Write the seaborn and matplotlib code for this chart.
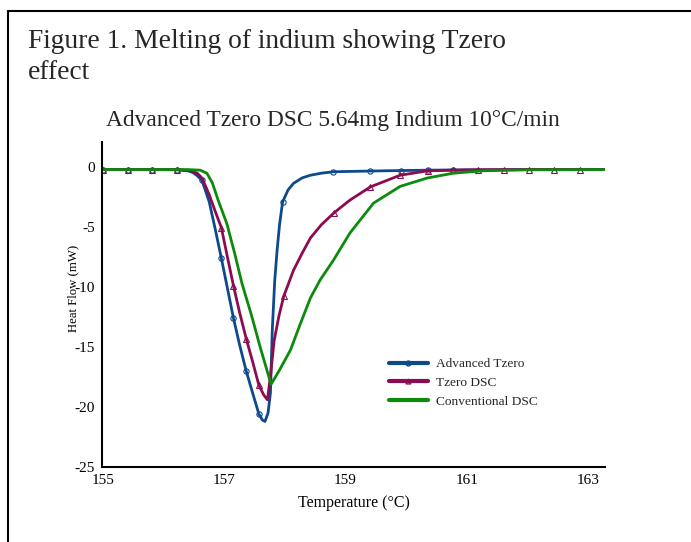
"""Melting of indium: Tzero DSC comparison."""

import matplotlib.pyplot as plt
from matplotlib.lines import Line2D
import pandas as pd
import seaborn as sns

sns.set_theme(style="white")
plt.rcParams["font.family"] = ["Liberation Serif", "DejaVu Serif"]

# Advanced Tzero
adv_temp = [155.0, 155.41, 155.81, 156.22, 156.4, 156.48, 156.55, 156.63, 156.75, 156.85,
            156.95, 157.05, 157.15, 157.25, 157.36, 157.47, 157.57, 157.63, 157.67, 157.72,
            157.76, 157.79, 157.83, 157.87, 157.91, 157.96, 158.05, 158.14, 158.28, 158.42,
            158.6, 158.8, 159.41, 159.91, 160.36, 161.0, 162.0, 163.28]
adv_hf = [-0.2, -0.2, -0.2, -0.22, -0.3, -0.45, -0.7, -1.1, -2.9, -5.2,
          -7.6, -10.1, -12.6, -14.8, -17.0, -18.9, -20.6, -21.1, -21.2, -20.5,
          -18.8, -13.6, -9.5, -6.9, -4.8, -2.9, -1.9, -1.35, -0.9, -0.67,
          -0.5, -0.38, -0.32, -0.28, -0.25, -0.22, -0.2, -0.2]
adv_mark_temp = [155.0, 155.41, 155.81, 156.22, 156.63, 156.95, 157.15, 157.36, 157.57,
                 157.96, 158.8, 159.41, 159.91, 160.36, 160.78]
adv_mark_hf = [-0.2, -0.2, -0.2, -0.22, -1.1, -7.6, -12.6, -17.0, -20.6,
               -2.9, -0.38, -0.32, -0.28, -0.25, -0.22]

# Tzero DSC
tz_temp = [155.0, 155.41, 155.81, 156.22, 156.45, 156.55, 156.63, 156.75, 156.85, 156.95,
           157.05, 157.15, 157.25, 157.36, 157.47, 157.57, 157.65, 157.71, 157.76, 157.82,
           157.9, 157.98, 158.14, 158.28, 158.42, 158.6, 158.81, 159.07, 159.41, 159.9,
           160.36, 160.78, 161.19, 162.0, 163.28]
tz_hf = [-0.2, -0.2, -0.2, -0.2, -0.3, -0.5, -0.9, -2.3, -3.7, -5.05,
         -7.5, -9.9, -12.1, -14.3, -16.3, -18.2, -19.0, -19.4, -17.4, -14.5,
         -12.4, -10.75, -8.6, -7.2, -5.9, -4.8, -3.8, -2.75, -1.64, -0.67,
         -0.3, -0.25, -0.22, -0.2, -0.2]
tz_mark_temp = [155.0, 155.41, 155.81, 156.22, 156.95, 157.15, 157.36, 157.57, 157.98,
                158.81, 159.41, 159.9, 160.36, 160.78, 161.19, 161.62, 162.03, 162.44, 162.87]
tz_mark_hf = [-0.2, -0.2, -0.2, -0.2, -5.05, -9.9, -14.3, -18.2, -10.75,
              -3.8, -1.64, -0.67, -0.3, -0.25, -0.22, -0.2, -0.2, -0.2, -0.2]

# Conventional DSC
conv_temp = [155.0, 155.8, 156.4, 156.6, 156.71, 156.8, 156.9, 157.04, 157.17, 157.29,
             157.45, 157.59, 157.7, 157.77, 157.9, 158.09, 158.25, 158.42, 158.58, 158.8,
             159.07, 159.46, 159.9, 160.35, 160.78, 161.27, 162.0, 163.28]
conv_hf = [-0.2, -0.2, -0.2, -0.25, -0.5, -1.3, -2.8, -4.7, -7.2, -9.7,
           -12.4, -15.0, -16.9, -18.1, -17.0, -15.25, -13.1, -10.9, -9.4, -7.75,
           -5.5, -3.0, -1.6, -0.9, -0.5, -0.3, -0.22, -0.2]

series = [
    ("Advanced Tzero", adv_temp, adv_hf, adv_mark_temp, adv_mark_hf, "#0c4a8c", "o"),
    ("Tzero DSC", tz_temp, tz_hf, tz_mark_temp, tz_mark_hf, "#8c0c50", "^"),
    ("Conventional DSC", conv_temp, conv_hf, None, None, "#0c8a0c", None),
]

fig = plt.figure(figsize=(6.91, 5.42), dpi=100)
ax = fig.add_axes([0.1476, 0.1384, 0.7279, 0.5996])

for label, temp, hf, mt, mh, color, marker in series:
    line = pd.DataFrame({"T": temp, "HF": hf})
    sns.lineplot(data=line, x="T", y="HF", ax=ax, color=color, linewidth=2.0,
                 sort=False, estimator=None)
    if mt is not None:
        ax.plot(mt, mh, linestyle="none", marker=marker, markersize=3.8,
                markerfacecolor="none", markeredgecolor=color, markeredgewidth=0.8)

ax.set_xlim(154.98, 163.28)
ax.set_ylim(-25, 2.1)
ax.set_xticks([155, 157, 159, 161, 163])
ax.set_yticks([0, -5, -10, -15, -20, -25])
ax.set_yticklabels(["0", "-5", "-10", "-15", "-20", "-25"])
ax.tick_params(direction="in", length=5, width=1, labelsize=11, color="black",
               labelcolor="black")
ax.tick_params(axis="x", pad=5)
ax.tick_params(axis="y", pad=5)
for side in ("top", "right"):
    ax.spines[side].set_visible(False)
for side in ("left", "bottom"):
    ax.spines[side].set_color("black")
    ax.spines[side].set_linewidth(1.5)

ax.set_xlabel("Temperature (°C)", fontsize=11.5, labelpad=6, color="black")
ax.set_ylabel("Heat Flow (mW)", fontsize=9.2, color="black")
ax.yaxis.set_label_coords(-0.046, 0.55)

handles = [
    Line2D([], [], color=c, linewidth=3, marker=m, markersize=3.5,
           markerfacecolor="none", markeredgecolor=c)
    for _, _, _, _, _, c, m in series
]
ax.legend(handles, [s[0] for s in series], loc="upper left",
          bbox_to_anchor=(0.547, 0.372), frameon=False, fontsize=9.6,
          handlelength=2.9, labelspacing=0.48, handletextpad=0.6)

fig.text(0.040, 0.912, "Figure 1. Melting of indium showing Tzero", fontsize=19.8,
         ha="left", va="baseline")
fig.text(0.040, 0.855, "effect", fontsize=19.8, ha="left", va="baseline")
fig.text(0.482, 0.768, "Advanced Tzero DSC 5.64mg Indium 10°C/min", fontsize=16.8,
         ha="center", va="baseline")

# page frame (only left and top edges visible)
fig.add_artist(Line2D([0.0116, 0.0116], [0.0, 0.9797], transform=fig.transFigure,
                      color="black", linewidth=1.5))
fig.add_artist(Line2D([0.0116, 1.0], [0.9797, 0.9797], transform=fig.transFigure,
                      color="black", linewidth=1.5))

fig.savefig("out.png", dpi=100)
